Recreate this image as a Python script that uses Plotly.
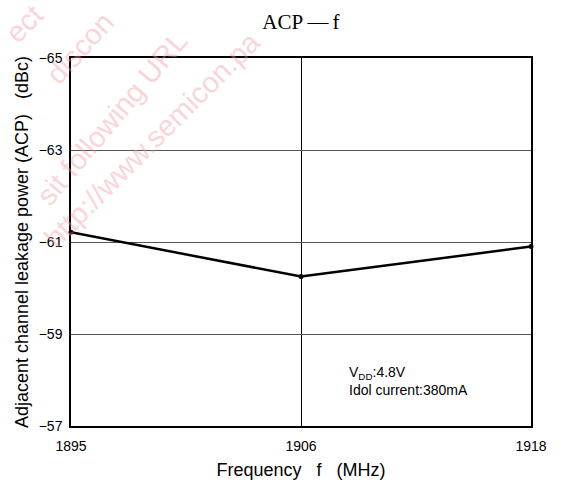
import plotly.graph_objects as go

# Data
freq_labels = ["1895", "1906", "1918"]
acp_dbc = [-61.21, -60.25, -60.90]
y_ticks = [-65, -63, -61, -59, -57]

W, H = 562, 481
L, R, T, B = 71, 31, 58, 55

def px2paper(x, y):
    return (x - L) / (W - L - R), (H - B - y) / (H - T - B)

fig = go.Figure()
fig.add_trace(go.Scatter(
    x=freq_labels, y=acp_dbc, mode="lines+markers",
    line=dict(color="black", width=2.5),
    marker=dict(color="black", size=5),
    showlegend=False, cliponaxis=False,
))

# faint watermark text (visible fragments)
wm = [
    ("ect", 24, 24, -45),
    ("discon", 80, 48, -48),
    ("sit following URL", 112, 118, -50),
    ("http://www.semicon.pa", 152, 140, -45),
]
annotations = []
for txt, cx, cy, ang in wm:
    ax, ay = px2paper(cx, cy)
    annotations.append(dict(
        text=txt, x=ax, y=ay, xref="paper", yref="paper",
        xanchor="center", yanchor="middle", showarrow=False,
        textangle=ang,
        font=dict(family="Liberation Sans, Arial", size=29, color="rgba(245,150,160,0.42)"),
    ))

fx, fy = px2paper(347, 381)
annotations.append(dict(
    text="V<sub>DD</sub>:4.8V<br>Idol current:380mA",
    x=fx, y=fy, xref="paper", yref="paper", xanchor="left", yanchor="middle",
    align="left", showarrow=False,
    font=dict(family="Liberation Sans, Arial", size=14, color="black"),
))

fig.update_layout(
    width=W, height=H,
    margin=dict(l=L, r=R, t=T, b=B, autoexpand=False),
    paper_bgcolor="white", plot_bgcolor="rgba(0,0,0,0)",
    title=dict(text="ACP\u2009—\u2009f", x=301 / W, xanchor="center", y=1 - 22 / H, yanchor="middle",
               font=dict(family="Liberation Serif, Times New Roman", size=21, color="black")),
    annotations=annotations,
    xaxis=dict(
        type="category", range=[0, 2], automargin=False,
        showgrid=True, gridcolor="black", gridwidth=1,
        showline=True, linecolor="black", linewidth=1.5, mirror=True,
        ticks="", ticklabelstandoff=6,
        tickfont=dict(family="Liberation Sans, Arial", size=14, color="black"),
        title=dict(text="Frequency\u00a0\u00a0\u00a0f\u00a0\u00a0\u00a0(MHz)", standoff=11,
                   font=dict(family="Liberation Sans, Arial", size=18, color="black")),
        zeroline=False,
    ),
    yaxis=dict(
        range=[-57, -65], tickvals=y_ticks, automargin=False,
        showgrid=True, gridcolor="#555", gridwidth=1,
        showline=True, linecolor="black", linewidth=1.5, mirror=True,
        ticks="", ticklabelstandoff=4,
        tickfont=dict(family="Liberation Sans, Arial", size=14, color="black"),
        title=dict(text="Adjacent channel leakage power (ACP)\u00a0\u00a0\u00a0(dBc)", standoff=5,
                   font=dict(family="Liberation Sans, Arial", size=18, color="black")),
        zeroline=False,
    ),
)

fig.write_html("out.html")
